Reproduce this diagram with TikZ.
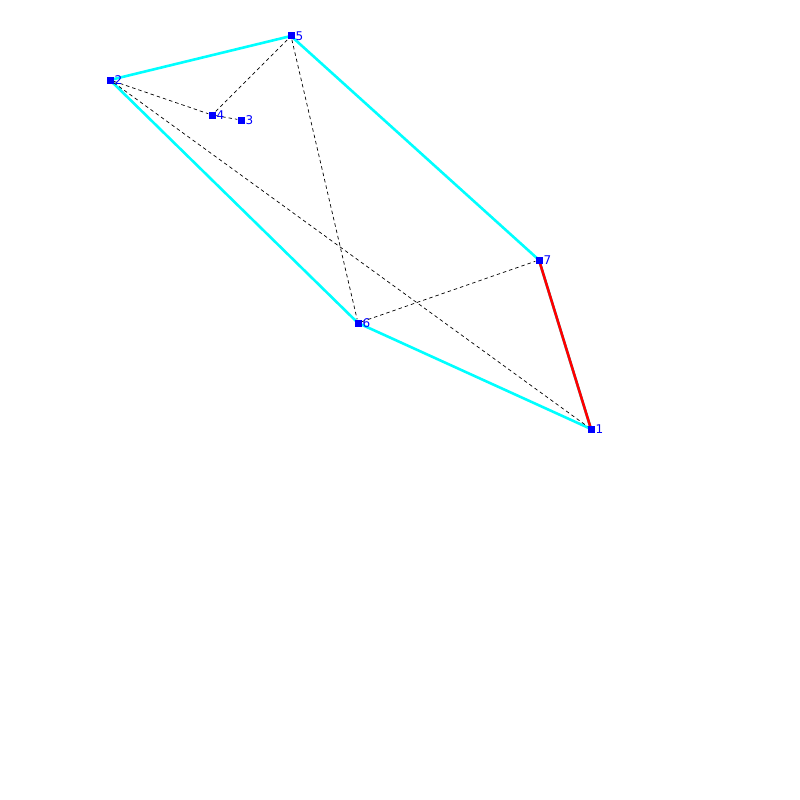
\documentclass[tikz,border=0pt]{standalone}
\usepackage{fontspec}
\setmainfont{DejaVu Sans}
\definecolor{hullcyan}{RGB}{0,255,255}
\definecolor{cutred}{RGB}{255,0,0}
\definecolor{ptblue}{RGB}{0,0,255}
\tikzset{
  pt/.style={draw=none,fill=ptblue,inner sep=0pt,minimum size=7pt},
  lbl/.style={text=ptblue,font=\fontsize{12}{13}\selectfont,inner sep=0.8pt},
  hull/.style={hullcyan,line width=2.6pt},
  cut/.style={cutred,line width=2.6pt},
  diag/.style={black,dash pattern=on 3.5pt off 3pt,line width=0.7pt}
}
\begin{document}
\begin{tikzpicture}[x=1pt,y=-1pt]
\useasboundingbox (0,0) rectangle (800,800);
\node[pt](p1) at (591,429){};
\node[pt](p2) at (110,80){};
\node[pt](p3) at (241,120){};
\node[pt](p4) at (212,115){};
\node[pt](p5) at (291,36){};
\node[pt](p6) at (358,323){};
\node[pt](p7) at (539,260){};
% hull
\draw[hull](p2.center) -- (p5.center);
\draw[hull](p5.center) -- (p7.center);
\draw[hull](p7.center) -- (p1.center);
\draw[hull](p1.center) -- (p6.center);
\draw[hull](p6.center) -- (p2.center);
\draw[cut](p7.center) -- (p1.center);
% diagonals
\draw[diag](p2) -- (p4);
\draw[diag](p4) -- (p3);
\draw[diag](p4) -- (p5);
\draw[diag](p2) -- (p1);
\draw[diag](p5) -- (p6);
\draw[diag](p6) -- (p7);
\node[pt] at (p1){};
\node[pt] at (p2){};
\node[pt] at (p3){};
\node[pt] at (p4){};
\node[pt] at (p5){};
\node[pt] at (p6){};
\node[pt] at (p7){};
\node[lbl,anchor=west](l1) at (p1.east){1};
\node[lbl,anchor=west](l2) at (p2.east){2};
\node[lbl,anchor=west](l3) at (p3.east){3};
\node[lbl,anchor=west](l4) at (p4.east){4};
\node[lbl,anchor=west](l5) at (p5.east){5};
\node[lbl,anchor=west](l6) at (p6.east){6};
\node[lbl,anchor=west](l7) at (p7.east){7};
\end{tikzpicture}
\end{document}
